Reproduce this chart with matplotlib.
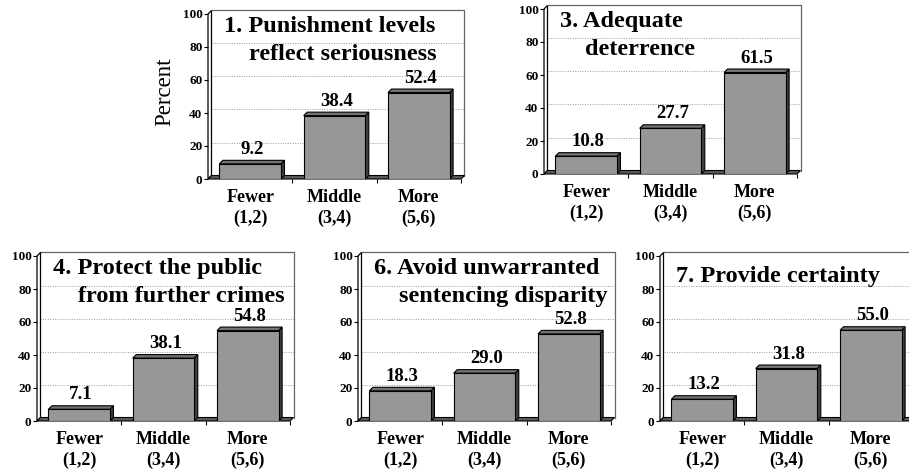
import matplotlib.pyplot as plt
from matplotlib.patches import Polygon

plt.rcParams['font.family'] = ['Liberation Serif', 'DejaVu Serif']
plt.rcParams['font.weight'] = 'bold'

categories = ["Fewer\n(1,2)", "Middle\n(3,4)", "More\n(5,6)"]

title_1 = ["1. Punishment levels", "reflect seriousness"]
title_3 = ["3. Adequate", "deterrence"]
title_4 = ["4. Protect the public", "from further crimes"]
title_6 = ["6. Avoid unwarranted", "sentencing disparity"]
title_7 = ["7. Provide certainty"]

vals_1 = [9.2, 38.4, 52.4]
vals_3 = [10.8, 27.7, 61.5]
vals_4 = [7.1, 38.1, 54.8]
vals_6 = [18.3, 29.0, 52.8]
vals_7 = [13.2, 31.8, 55.0]

yticks = [0, 20, 40, 60, 80, 100]

W, H = 909, 472
DX, DY = 3.5, 3.5      # depth of the fake 3d, pixels
BAR_W = 0.73
FRONT = "#979797"
TOP = "#737373"
SIDE = "#3f3f3f"
FLOOR = "#5a5a5a"

fig = plt.figure(figsize=(W / 100, H / 100), dpi=100)


def panel(box, title, vals, ylabel=None):
    # box = front plane in pixels: left, right, zero line, 100 line
    left, right, zero, top = box
    ax = fig.add_axes([left / W, 1 - zero / H, (right - left) / W, (zero - top) / H])
    ax.set_xlim(-0.5, 2.5)
    ax.set_ylim(0, 100)
    ax.patch.set_visible(False)
    for s in ax.spines.values():
        s.set_visible(False)

    ux = DX / ((right - left) / 3.0)
    uy = DY / ((zero - top) / 100.0)

    # back wall: dotted grid + frame
    for v in yticks[1:-1]:
        ax.plot([-0.5 + ux, 2.5 + ux], [v + uy, v + uy], color="#9a9a9a",
                lw=0.7, linestyle=(0, (1, 1.5)), zorder=0.5, clip_on=False)
    ax.plot([-0.5 + ux, 2.5 + ux, 2.5 + ux], [100 + uy, 100 + uy, uy],
            color="#666666", lw=0.9, zorder=0.6, clip_on=False)

    # side wall and floor
    ax.add_patch(Polygon([(-0.5, 0), (-0.5, 100), (-0.5 + ux, 100 + uy), (-0.5 + ux, uy)],
                         closed=True, fc="white", ec="black", lw=0.9, zorder=0.7, clip_on=False))
    ax.add_patch(Polygon([(-0.5, 0), (2.5, 0), (2.5 + ux, uy), (-0.5 + ux, uy)],
                         closed=True, fc=FLOOR, ec="black", lw=0.8, zorder=0.8, clip_on=False))

    for i, v in enumerate(vals):
        x0 = i - BAR_W / 2
        x1 = i + BAR_W / 2
        ax.add_patch(Polygon([(x1, 0), (x1, v), (x1 + ux, v + uy), (x1 + ux, uy)],
                             closed=True, fc=SIDE, ec="black", lw=0.8, zorder=2))
        ax.add_patch(Polygon([(x0, v), (x1, v), (x1 + ux, v + uy), (x0 + ux, v + uy)],
                             closed=True, fc=TOP, ec="black", lw=0.8, zorder=2))
        ax.bar(i, v, BAR_W, color=FRONT, edgecolor="black", lw=0.8, zorder=3)
        ax.annotate(f"{v:.1f}", (i, v), xytext=(2, 10), textcoords="offset pixels",
                    ha="center", va="baseline", fontsize=13.5)

    ax.set_yticks(yticks)
    ax.tick_params(axis="y", direction="out", length=3, width=0.8, pad=1, labelsize=9.5)
    ax.set_xticks(range(3))
    ax.set_xticklabels(categories, linespacing=1.3)
    ax.set_xticks([0.5, 1.5, 2.5], minor=True)
    ax.tick_params(axis="x", which="major", length=0, pad=7, labelsize=13)
    ax.tick_params(axis="x", which="minor", direction="out", length=3, width=0.8)

    if len(title) == 1:
        ax.annotate(title[0], xy=(0, 1), xycoords="axes fraction", xytext=(16, -26),
                    textcoords="offset pixels", ha="left", va="baseline", fontsize=17.5)
    else:
        for k, line in enumerate(title):
            ax.annotate(line, xy=(0, 1), xycoords="axes fraction",
                        xytext=(16 + 25 * k, -18 - 28 * k), textcoords="offset pixels",
                        ha="left", va="baseline", fontsize=17.5)

    if ylabel:
        ax.annotate(ylabel, xy=(0, 0.5), xycoords="axes fraction", xytext=(-43, 5),
                    textcoords="offset pixels", rotation=90, ha="center", va="center",
                    fontsize=16.5, fontweight="normal")
    return ax


panel((208, 461, 179, 14), title_1, vals_1, ylabel="Percent")
panel((544, 797, 174, 9), title_3, vals_3)
panel((37, 290, 421, 256), title_4, vals_4)
panel((358, 611, 421, 256), title_6, vals_6)
panel((660, 913, 421, 256), title_7, vals_7)

fig.savefig("out.png", dpi=100)
